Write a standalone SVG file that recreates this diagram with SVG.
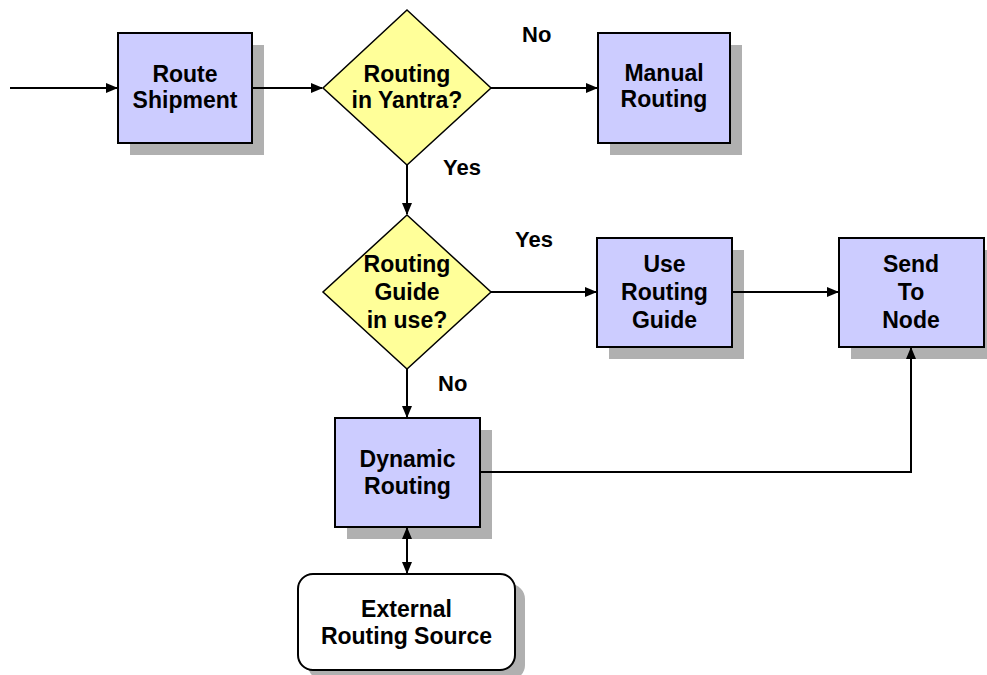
<svg xmlns="http://www.w3.org/2000/svg" width="987" height="675" viewBox="0 0 987 675">
<style>
.box{fill:#CCCCFF;stroke:#000;stroke-width:2}
.dia{fill:#FFFF99;stroke:#000;stroke-width:1.5}
.ext{fill:#FFFFFF;stroke:#000;stroke-width:2}
.sh{fill:#B0B0B0}
.t{font-family:"Liberation Sans",Arial,sans-serif;font-weight:bold;font-size:23px;fill:#000;text-anchor:middle}
.lbl{font-family:"Liberation Sans",Arial,sans-serif;font-weight:bold;font-size:22px;fill:#000}
.c{fill:none;stroke:#000;stroke-width:2}
</style>
<defs>
<marker id="ah" markerUnits="userSpaceOnUse" markerWidth="12" markerHeight="10" refX="11" refY="5" orient="auto-start-reverse" viewBox="0 0 12 10">
<path d="M0,0 L12,5 L0,10 z" fill="#000"/>
</marker>
</defs>
<rect width="987" height="675" fill="#fff"/>
<g id="labels">
<text class="lbl" x="522" y="42">No</text>
<text class="lbl" x="443" y="175">Yes</text>
<text class="lbl" x="515" y="247">Yes</text>
<text class="lbl" x="438" y="391">No</text>
</g>
<g id="route-shipment">
<rect class="sh" x="130" y="45" width="134" height="110"/>
<rect class="box" x="118" y="33" width="134" height="110"/>
<text class="t" x="185" y="82">Route</text>
<text class="t" x="185" y="108">Shipment</text>
</g>
<g id="routing-in-yantra">
<polygon class="dia" points="407,10 491,88 407,165 323,88"/>
<text class="t" x="407" y="82">Routing</text>
<text class="t" x="407" y="108">in Yantra?</text>
</g>
<g id="manual-routing">
<rect class="sh" x="610" y="45" width="132" height="110"/>
<rect class="box" x="598" y="33" width="132" height="110"/>
<text class="t" x="664" y="81">Manual</text>
<text class="t" x="664" y="107">Routing</text>
</g>
<g id="routing-guide-in-use">
<polygon class="dia" points="407,215 491,292 407,369 323,292"/>
<text class="t" x="407" y="272">Routing</text>
<text class="t" x="407" y="300">Guide</text>
<text class="t" x="407" y="328">in use?</text>
</g>
<g id="use-routing-guide">
<rect class="sh" x="609" y="250" width="135" height="109"/>
<rect class="box" x="597" y="238" width="135" height="109"/>
<text class="t" x="664.5" y="272">Use</text>
<text class="t" x="664.5" y="300">Routing</text>
<text class="t" x="664.5" y="328">Guide</text>
</g>
<g id="send-to-node">
<rect class="sh" x="851" y="250" width="145" height="109"/>
<rect class="box" x="839" y="238" width="145" height="109"/>
<text class="t" x="911" y="272">Send</text>
<text class="t" x="911" y="300">To</text>
<text class="t" x="911" y="328">Node</text>
</g>
<g id="dynamic-routing">
<rect class="sh" x="347" y="430" width="145" height="109"/>
<rect class="box" x="335" y="418" width="145" height="109"/>
<text class="t" x="407.5" y="467">Dynamic</text>
<text class="t" x="407.5" y="494">Routing</text>
</g>
<g id="external-routing-source">
<rect class="sh" x="308" y="584" width="217" height="96" rx="15"/>
<rect class="ext" x="298" y="574" width="217" height="96" rx="15"/>
<text class="t" x="406.5" y="617">External</text>
<text class="t" x="406.5" y="644">Routing Source</text>
</g>
<g id="connectors">
<path class="c" d="M10,88 H117" marker-end="url(#ah)"/>
<path class="c" d="M253,88 H322" marker-end="url(#ah)"/>
<path class="c" d="M491,88 H597" marker-end="url(#ah)"/>
<path class="c" d="M407,165 V214" marker-end="url(#ah)"/>
<path class="c" d="M491,292 H596" marker-end="url(#ah)"/>
<path class="c" d="M733,292 H838" marker-end="url(#ah)"/>
<path class="c" d="M407,369 V417" marker-end="url(#ah)"/>
<path class="c" d="M481,472 H911 V348" marker-end="url(#ah)"/>
<path class="c" d="M407,528 V573" marker-start="url(#ah)" marker-end="url(#ah)"/>
</g>
</svg>
